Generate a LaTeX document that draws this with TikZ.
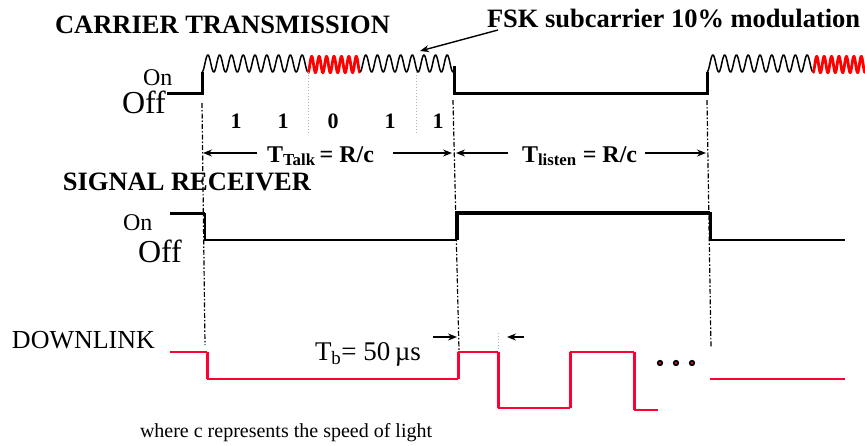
\documentclass[tikz,border=0pt]{standalone}
\usepackage{fontspec}
\setmainfont{Liberation Serif}
\usetikzlibrary{arrows.meta}
\definecolor{dlred}{HTML}{FF0033}
\definecolor{fskred}{HTML}{FF0000}
\begin{document}
\begin{tikzpicture}[x=1pt,y=-1pt,
  txt/.style={inner sep=0pt, outer sep=0pt},
  ttl/.style={txt, font=\fontsize{26.5}{30}\selectfont\bfseries},
  bit/.style={txt, font=\fontsize{22}{26}\selectfont\bfseries, anchor=base},
  tlab/.style={txt, font=\fontsize{24}{28}\selectfont\bfseries, anchor=base west},
  onlab/.style={txt, font=\fontsize{24}{28}\selectfont, anchor=base west},
  offlab/.style={txt, font=\fontsize{32}{36}\selectfont, anchor=base west},
  carrier/.style={black, line width=1.5pt, line join=round},
  fsk/.style={fskred, line width=2.8pt},
  level/.style={black, line width=3pt},
  thinlevel/.style={black, line width=2pt},
  dl/.style={dlred, line width=2pt},
  dlv/.style={dlred, line width=3pt},
  guide/.style={black, line width=1.2pt, dash pattern=on 5pt off 2pt on 1.5pt off 2pt},
  gguide/.style={gray!60, line width=1pt, dotted},
  dim/.style={black, line width=1.4pt, -{Stealth[length=9pt,width=7pt,inset=3pt]}},
  ]
\useasboundingbox (0,0) rectangle (865,445);

% ---------- titles ----------
\node[ttl, anchor=base west] (ct) at (55,33) {CARRIER TRANSMISSION};
\node[ttl, anchor=base west] (fsklab) at (487,27) {FSK subcarrier 10\% modulation};
\node[ttl, anchor=base east] (sr) at (311,190) {SIGNAL RECEIVER};

% ---------- carrier transmission ----------
\node[onlab] (con) at (143,85) {On};
\node[offlab] (coff) at (122,113) {Off};
\draw[level] (167,93) -- (202,93) -- (202,72);
\draw[carrier] plot[domain=202:308, samples=320] (\x,{63.5+8.5*cos((\x-202)*30.56)});
\draw[fsk] plot[domain=308:360, samples=320] (\x,{64.5+8*cos((\x-308)*48.46)});
\draw[carrier] plot[domain=360:453, samples=300] (\x,{63.5+8.5*cos((\x-360)*30.97)});
\draw[level] (454,66) -- (454,93) -- (707,93) -- (707,72);
\draw[carrier] plot[domain=707:813, samples=320] (\x,{63.5+8.5*cos((\x-707)*30.56)});
\draw[fsk] plot[domain=813:865, samples=320] (\x,{64.5+8*cos((\x-813)*48.46)});

% FSK arrow
\coordinate (fskfrom) at (498,30);
\coordinate (fskto) at (420,51);
\draw[dim] (fskfrom) -- (fskto);

% bit separators
\draw[gguide] (308,72) -- (308,133);
\draw[gguide] (416,72) -- (416,133);

% bits
\node[bit] (b1) at (236,128) {1};
\node[bit] (b2) at (283,128) {1};
\node[bit] (b3) at (333,128) {0};
\node[bit] (b4) at (390,128) {1};
\node[bit] (b5) at (438,128) {1};

% time guides
\coordinate (g1a) at (202,103); \coordinate (g1b) at (205,345);
\coordinate (g2a) at (453,100); \coordinate (g2b) at (459,350);
\coordinate (g3a) at (707,100); \coordinate (g3b) at (711,348);
\draw[guide] (g1a) -- (g1b);
\draw[guide] (g2a) -- (g2b);
\draw[guide] (g3a) -- (g3b);

% T talk / T listen
\node[tlab] (ttalk) at (267,162) {T\textsubscript{Talk}\hspace{4pt}= R/c};
\node[tlab] (tlisten) at (522,162) {T\textsubscript{listen} = R/c};
\coordinate (a1s) at (257,153); \coordinate (a1e) at (203,153);
\coordinate (a2s) at (393,153); \coordinate (a2e) at (452,153);
\coordinate (a3s) at (508,153); \coordinate (a3e) at (456,153);
\coordinate (a4s) at (645,153); \coordinate (a4e) at (706,153);
\draw[dim] (a1s) -- (a1e);
\draw[dim] (a2s) -- (a2e);
\draw[dim] (a3s) -- (a3e);
\draw[dim] (a4s) -- (a4e);

% ---------- signal receiver ----------
\node[onlab] (ron) at (123,230) {On};
\node[offlab] (roff) at (138,262) {Off};
\draw[level] (170,213) -- (205,213);
\draw[thinlevel] (205,213) -- (205,240) -- (457,240);
\draw[line width=4pt] (457,240) -- (457,213) -- (710,213);
\draw[line width=3pt] (710,212) -- (710,240);
\draw[thinlevel] (710,240) -- (845,240);

% ---------- downlink ----------
\node[onlab, font=\fontsize{26}{30}\selectfont] (dlab) at (12,348) {DOWNLINK};
\draw[dl] (170,352) -- (207,352);
\draw[dlv] (207,352) -- (207,379);
\draw[dl] (207,379) -- (458,379);
\draw[dlv] (458,379) -- (458,352);
\draw[dl] (458,352) -- (498,352);
\draw[dlv] (498,352) -- (498,408);
\draw[dl] (498,408) -- (570,408);
\draw[dlv] (570,408) -- (570,352);
\draw[dl] (570,352) -- (634,352);
\draw[dlv] (634,352) -- (634,410);
\draw[dl] (634,410) -- (658,410);
\draw[dl] (710,379) -- (845,379);
\foreach \i/\xx in {1/660,2/676,3/692} \draw[black, fill=dlred, line width=1.8pt] (\xx,363) circle (2.2pt) coordinate (dot\i);

% Tb
\node[onlab, font=\fontsize{27}{30}\selectfont] (tb) at (315,360) {T\textsubscript{b}= 50\,µs};
\coordinate (tbr1) at (433,337); \coordinate (tbr2) at (457,337);
\coordinate (tbl1) at (524,337); \coordinate (tbl2) at (507,337);
\draw[dim] (tbr1) -- (tbr2);
\draw[dim] (tbl1) -- (tbl2);
\draw[gguide] (498,333) -- (498,350);

% note
\node[txt, anchor=base west, font=\fontsize{20}{24}\selectfont] (note) at (140,437) {where c represents the speed of light};
\end{tikzpicture}
\end{document}
